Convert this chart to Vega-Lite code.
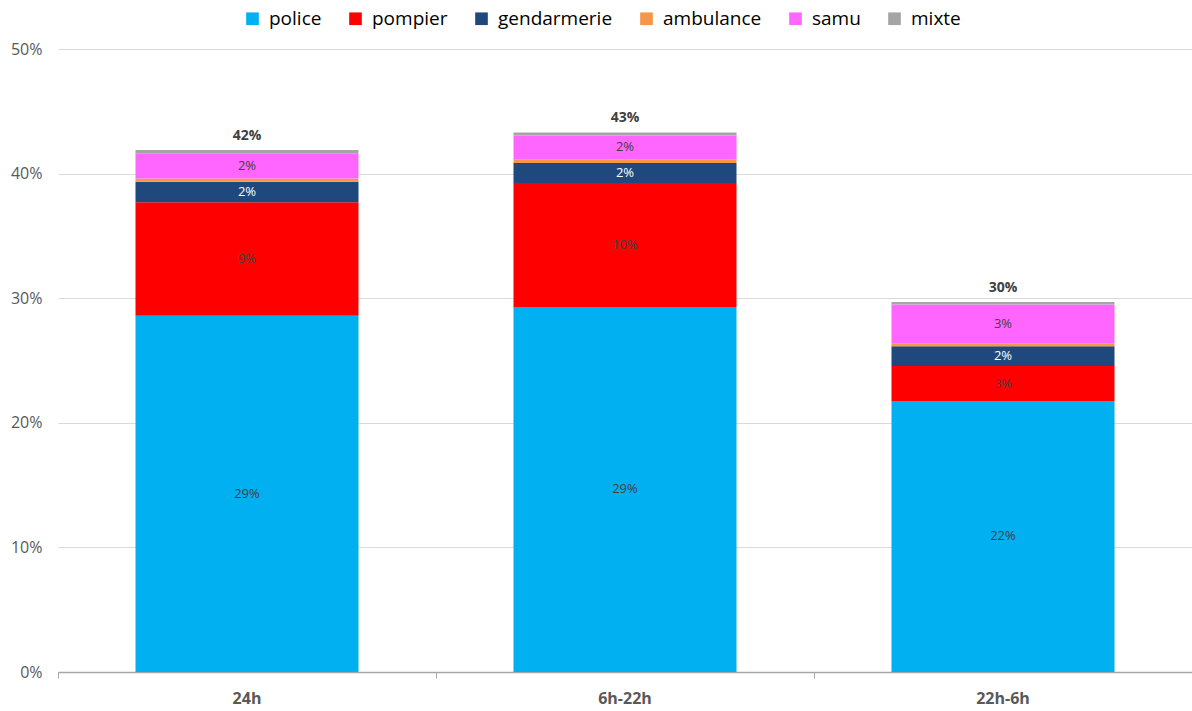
{
  "$schema": "https://vega.github.io/schema/vega-lite/v6.json",
  "autosize": "none",
  "width": 1134,
  "height": 623,
  "padding": {"left": 58, "top": 49, "right": 0, "bottom": 39},
  "background": "white",
  "config": {"font": "Open Sans", "view": {"stroke": null}},
  "data": {"values": [
    {"periode": "24h", "type": "police", "k": 1, "value": 0.286},
    {"periode": "24h", "type": "pompier", "k": 2, "value": 0.091},
    {"periode": "24h", "type": "gendarmerie", "k": 3, "value": 0.0165},
    {"periode": "24h", "type": "ambulance", "k": 4, "value": 0.0025},
    {"periode": "24h", "type": "samu", "k": 5, "value": 0.020},
    {"periode": "24h", "type": "mixte", "k": 6, "value": 0.003},
    {"periode": "6h-22h", "type": "police", "k": 1, "value": 0.293},
    {"periode": "6h-22h", "type": "pompier", "k": 2, "value": 0.0995},
    {"periode": "6h-22h", "type": "gendarmerie", "k": 3, "value": 0.016},
    {"periode": "6h-22h", "type": "ambulance", "k": 4, "value": 0.003},
    {"periode": "6h-22h", "type": "samu", "k": 5, "value": 0.019},
    {"periode": "6h-22h", "type": "mixte", "k": 6, "value": 0.0025},
    {"periode": "22h-6h", "type": "police", "k": 1, "value": 0.2175},
    {"periode": "22h-6h", "type": "pompier", "k": 2, "value": 0.028},
    {"periode": "22h-6h", "type": "gendarmerie", "k": 3, "value": 0.016},
    {"periode": "22h-6h", "type": "ambulance", "k": 4, "value": 0.0024},
    {"periode": "22h-6h", "type": "samu", "k": 5, "value": 0.031},
    {"periode": "22h-6h", "type": "mixte", "k": 6, "value": 0.002}
  ]},
  "encoding": {
    "x": {
      "field": "periode", "type": "nominal", "sort": ["24h", "6h-22h", "22h-6h"],
      "scale": {"paddingInner": 0.41, "paddingOuter": 0.205},
      "axis": {"title": null, "labelAngle": 0, "labelFontSize": 16, "labelFontWeight": "bold", "labelColor": "#595959", "labelPadding": 12, "domainColor": "#A6A6A6", "domainWidth": 1.5, "tickColor": "#A6A6A6", "tickSize": 6, "bandPosition": -0.347}
    }
  },
  "layer": [
    {
      "transform": [
        {"stack": "value", "groupby": ["periode"], "sort": [{"field": "k", "order": "ascending"}], "as": ["y0", "y1"]}
      ],
      "mark": {"type": "bar"},
      "encoding": {
        "y": {"field": "y0", "type": "quantitative", "scale": {"domain": [0, 0.5]},
          "axis": {"title": null, "format": ".0%", "values": [0, 0.1, 0.2, 0.3, 0.4, 0.5], "labelFontSize": 16, "labelColor": "#595959", "labelPadding": 16, "domain": false, "ticks": false, "gridColor": "#D9D9D9", "gridWidth": 1.2}},
        "y2": {"field": "y1"},
        "color": {
          "field": "type", "type": "nominal",
          "scale": {"domain": ["police", "pompier", "gendarmerie", "ambulance", "samu", "mixte"], "range": ["#00B0F0", "#FF0000", "#1F497D", "#F79646", "#FF66FF", "#A5A5A5"]},
          "legend": {"title": null, "orient": "none", "legendX": 185, "legendY": -40, "direction": "horizontal", "symbolType": "square", "symbolSize": 160, "symbolStrokeWidth": 0, "labelFontSize": 19, "labelColor": "#000000", "columnPadding": 24, "labelOffset": 7}
        }
      }
    },
    {
      "transform": [
        {"stack": "value", "groupby": ["periode"], "sort": [{"field": "k", "order": "ascending"}], "as": ["y0", "y1"]},
        {"filter": "datum.type != 'ambulance' && datum.type != 'mixte'"},
        {"calculate": "(datum.y0 + datum.y1) / 2", "as": "ymid"}
      ],
      "mark": {"type": "text", "fontSize": 13, "baseline": "middle"},
      "encoding": {
        "y": {"field": "ymid", "type": "quantitative"},
        "text": {"field": "value", "type": "quantitative", "format": ".0%"},
        "color": {"condition": {"test": "datum.type == 'gendarmerie'", "value": "#FFFFFF"}, "value": "#404040"}
      }
    },
    {
      "transform": [
        {"aggregate": [{"op": "sum", "field": "value", "as": "total"}], "groupby": ["periode"]}
      ],
      "mark": {"type": "text", "fontSize": 14, "fontWeight": "bold", "color": "#404040", "baseline": "bottom", "dy": -7},
      "encoding": {
        "y": {"field": "total", "type": "quantitative"},
        "text": {"field": "total", "type": "quantitative", "format": ".0%"}
      }
    }
  ]
}
